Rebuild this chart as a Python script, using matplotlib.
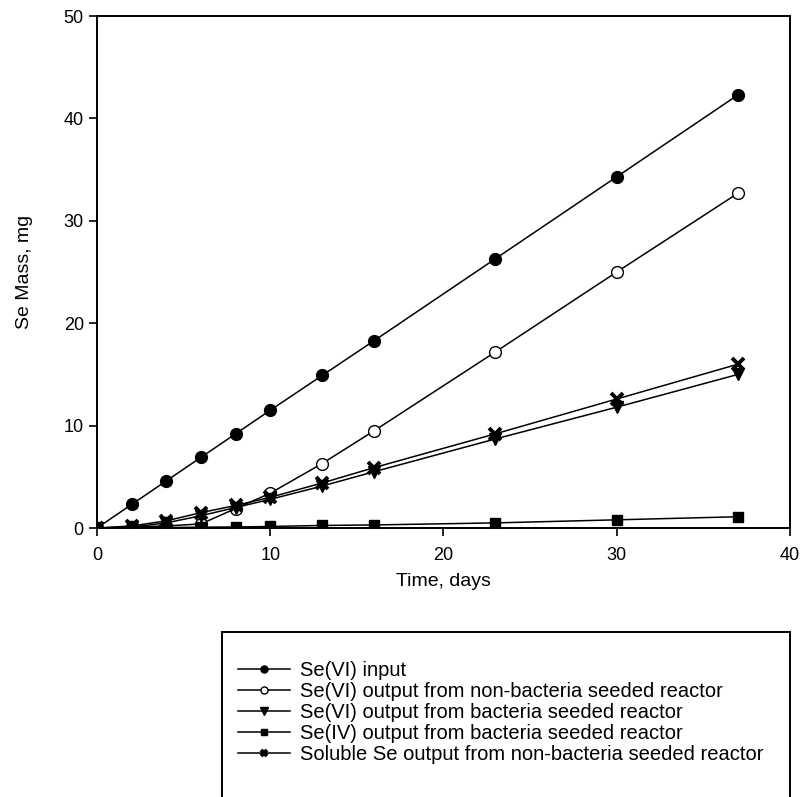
import matplotlib.pyplot as plt
from matplotlib.patches import Rectangle

plt.rcParams['font.family'] = ['Liberation Sans', 'DejaVu Sans']

# sampling days
days = [0, 2, 4, 6, 8, 10, 13, 16, 23, 30, 37]

# Se mass, mg
se6_input = [0, 2.3, 4.6, 6.9, 9.2, 11.5, 14.9, 18.3, 26.3, 34.3, 42.3]
se6_nonbact = [0, 0.1, 0.2, 0.4, 1.9, 3.4, 6.3, 9.5, 17.2, 25.0, 32.7]
se6_bact = [0, 0.1, 0.5, 1.2, 2.0, 2.8, 4.1, 5.5, 8.7, 11.8, 15.0]
se4_bact = [0, 0.02, 0.05, 0.08, 0.1, 0.15, 0.25, 0.3, 0.5, 0.8, 1.1]
soluble_nonbact = [0, 0.2, 0.7, 1.5, 2.2, 3.0, 4.4, 5.9, 9.2, 12.6, 16.0]

labels = ['Se(VI) input',
          'Se(VI) output from non-bacteria seeded reactor',
          'Se(VI) output from bacteria seeded reactor',
          'Se(IV) output from bacteria seeded reactor',
          'Soluble Se output from non-bacteria seeded reactor']

fig = plt.figure(figsize=(8.03, 7.97), dpi=100)
ax = fig.add_axes([0.1208, 0.3375, 0.863, 0.6424])

# plotting the series
ax.plot(days, se6_input, color='black', lw=1.1, marker='o', ms=8.5, mfc='black', label=labels[0])
ax.plot(days, se6_nonbact, color='black', lw=1.1, marker='o', ms=8.5, mfc='white', label=labels[1])
ax.plot(days, se6_bact, color='black', lw=1.1, marker='v', ms=9, mfc='black', label=labels[2])
ax.plot(days, se4_bact, color='black', lw=1.1, marker='s', ms=7.5, mfc='black', label=labels[3])
ax.plot(days, soluble_nonbact, color='black', lw=1.1, marker='x', ms=8, mew=2.8, label=labels[4])

ax.set_xlim(0, 40)
ax.set_ylim(0, 50)
ax.set_xticks([0, 10, 20, 30, 40])
ax.set_yticks([0, 10, 20, 30, 40, 50])
ax.tick_params(direction='out', length=6, width=1.2, labelsize=13, top=False, right=False)
ax.tick_params(axis='x', pad=8)
for s in ax.spines.values():
    s.set_linewidth(1.4)

ax.set_xlabel('Time, days', fontsize=14, labelpad=6)
ax.set_ylabel('Se Mass, mg', fontsize=14, labelpad=22)

# legend box runs past the bottom of the figure
fig.patches.append(Rectangle((222 / 803, -0.05), (790 - 222) / 803, 0.05 + (797 - 632) / 797,
                             transform=fig.transFigure, fill=False, edgecolor='black', lw=1.4))
fig.legend(loc='upper left', bbox_to_anchor=(230 / 803, 1 - 653 / 797), frameon=False,
           fontsize=14.5, markerscale=0.6, handlelength=2.6, handletextpad=0.5,
           labelspacing=0.1, borderaxespad=0)

fig.savefig('out.png', dpi=100)
